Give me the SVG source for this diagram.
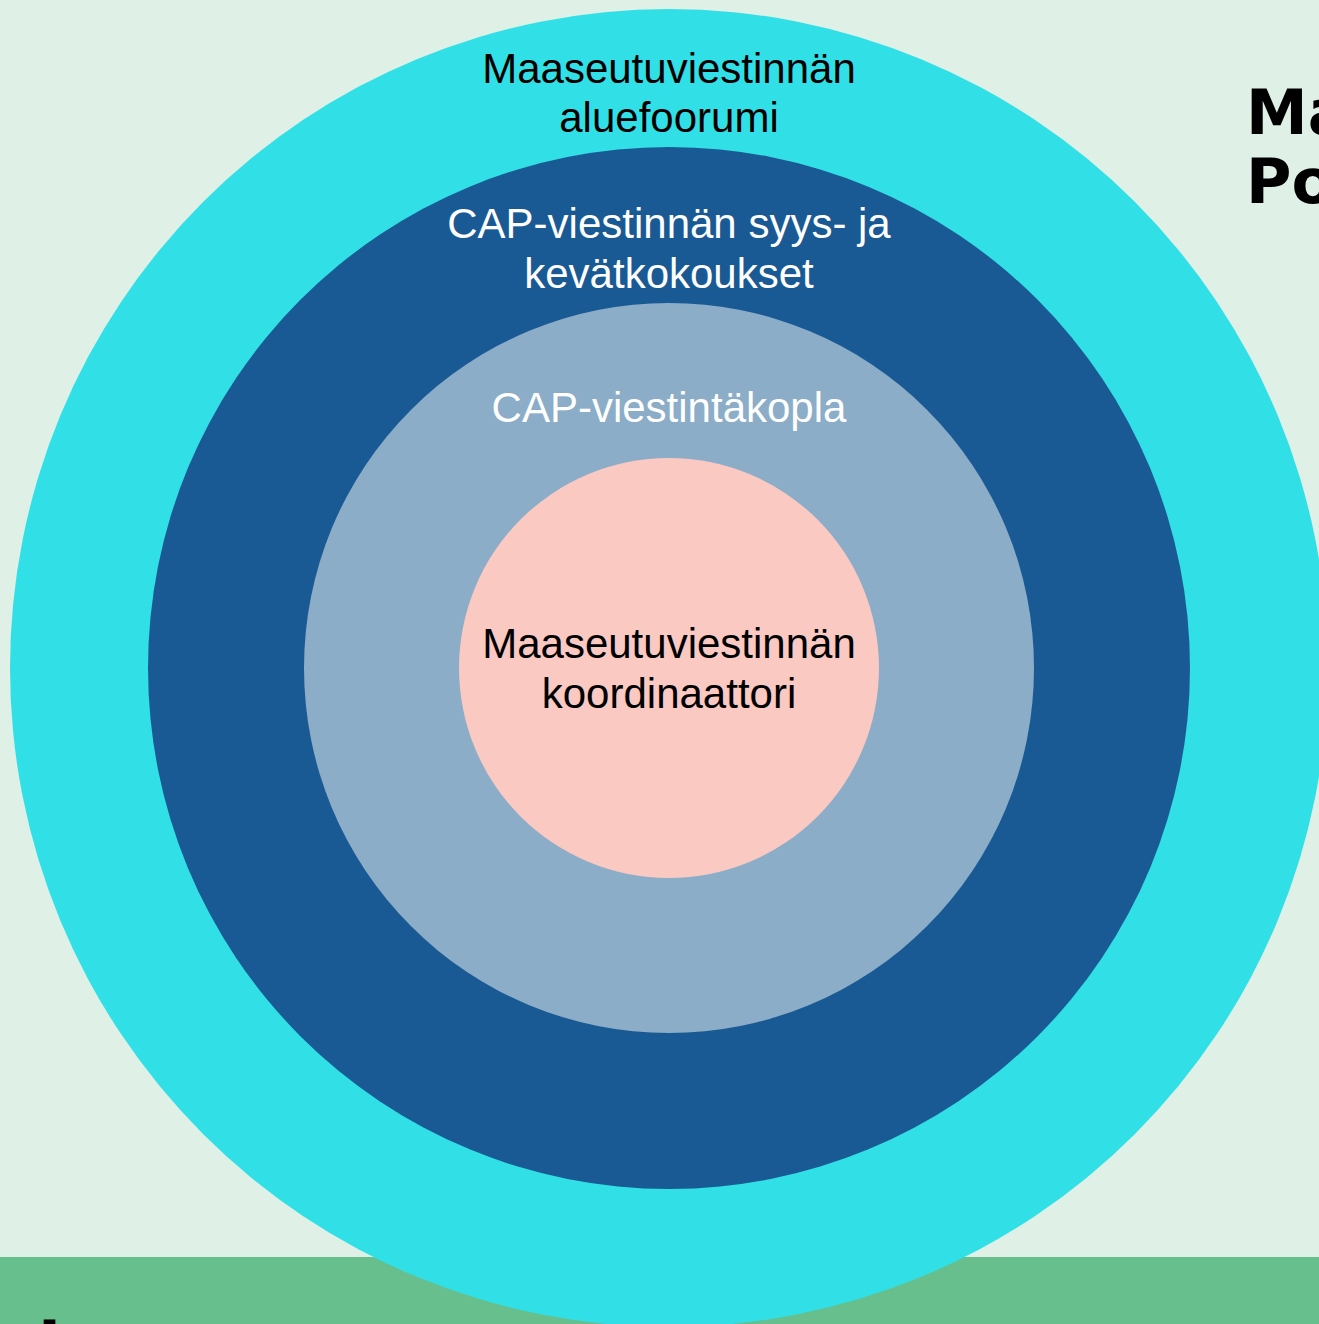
<svg xmlns="http://www.w3.org/2000/svg" width="1319" height="1324" viewBox="0 0 1319 1324">
<style>
.lbl{font-family:"Liberation Sans",Arial,sans-serif;font-size:42px;text-anchor:middle}
.dark{fill:#000}
.light{fill:#fff}
.title{font-family:"DejaVu Sans",sans-serif;font-weight:bold;font-size:62px;fill:#000}
</style>
<rect id="background" x="0" y="0" width="1319" height="1324" fill="#DFF0E6"/>
<rect id="band" x="0" y="1257" width="1319" height="67" fill="#66BF8C"/>
<text class="title" x="1246" y="134">Ma</text>
<text class="title" x="1246" y="203">Po</text>
<text class="title" x="38" y="1365">I</text>
<g id="ring-aluefoorumi">
<circle cx="669" cy="668" r="659" fill="#31E0E6"/>
</g>
<g id="ring-kokoukset">
<circle cx="669" cy="668" r="521" fill="#1A5A94"/>
</g>
<g id="ring-kopla">
<circle cx="669" cy="668" r="365" fill="#8BADC8"/>
</g>
<g id="core-koordinaattori">
<circle cx="669" cy="668" r="210" fill="#F9C9C2"/>
</g>
<g id="labels">
<text class="lbl dark" x="669" y="83">Maaseutuviestinnän</text>
<text class="lbl dark" x="669" y="132">aluefoorumi</text>
<text class="lbl light" x="669" y="238">CAP-viestinnän syys- ja</text>
<text class="lbl light" x="669" y="288">kevätkokoukset</text>
<text class="lbl light" x="669" y="422">CAP-viestintäkopla</text>
<text class="lbl dark" x="669" y="658">Maaseutuviestinnän</text>
<text class="lbl dark" x="669" y="708">koordinaattori</text>
</g>
<g id="connectors"/>
</svg>
